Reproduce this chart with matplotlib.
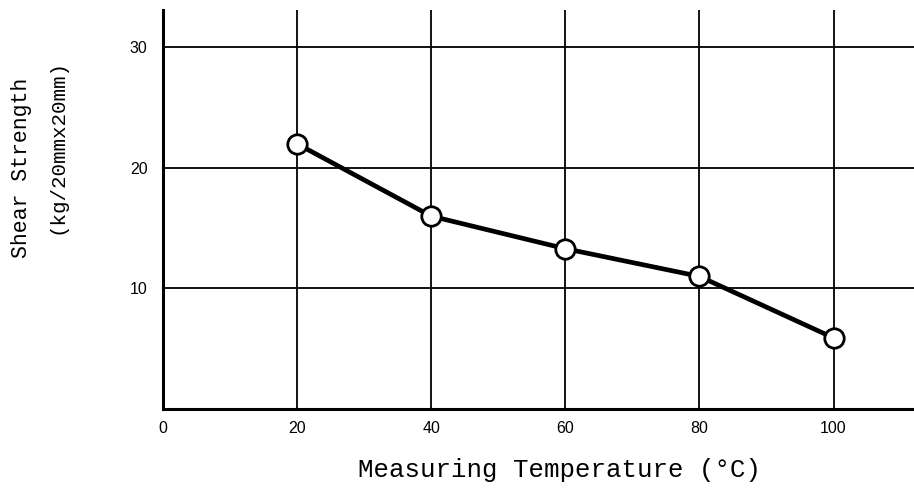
import matplotlib.pyplot as plt

# Data
temperature = [20, 40, 60, 80, 100]
shear_strength = [22.0, 16.0, 13.3, 11.0, 5.9]

x_ticks = [0, 20, 40, 60, 80, 100]
y_ticks = [10, 20, 30]

# Prepare Plot
fig = plt.figure(figsize=(9.14, 4.88), dpi=100)
ax = fig.add_axes([0.1783, 0.1619, 0.8217, 0.8176])
ax.set_xlim(0, 112)
ax.set_ylim(0, 33.1)

# Grid lines
for xv in x_ticks[1:]:
    ax.axvline(xv, color='black', lw=1.3, zorder=1)
for yv in y_ticks:
    ax.axhline(yv, color='black', lw=1.3, zorder=1)

# Data line with open circles
ax.plot(temperature, shear_strength, color='black', lw=3.4, zorder=2)
ax.plot(temperature, shear_strength, 'o', ms=14, mfc='white',
        mec='black', mew=2.0, zorder=3)

# Axes styling
for side in ['top', 'right']:
    ax.spines[side].set_visible(False)
for side in ['left', 'bottom']:
    ax.spines[side].set_linewidth(2.2)
ax.set_xticks(x_ticks)
ax.set_yticks(y_ticks)
ax.tick_params(length=0, labelsize=11.5)
ax.tick_params(axis='x', pad=9)
ax.tick_params(axis='y', pad=11)
for lbl in ax.get_xticklabels() + ax.get_yticklabels():
    lbl.set_family('Liberation Sans')

# Axis labels
fig.text(0.612, 0.037, 'Measuring Temperature (\u00b0C)', family='Liberation Mono',
         fontsize=18.5, ha='center', va='center')
fig.text(0.024, 0.655, 'Shear Strength', family='Liberation Mono',
         fontsize=15.5, ha='center', va='center', rotation=90)
fig.text(0.062, 0.70, '(kg/20mmx20mm)', family='Liberation Mono',
         fontsize=15, ha='center', va='center', rotation=90)

plt.savefig('out.png', dpi=100)
